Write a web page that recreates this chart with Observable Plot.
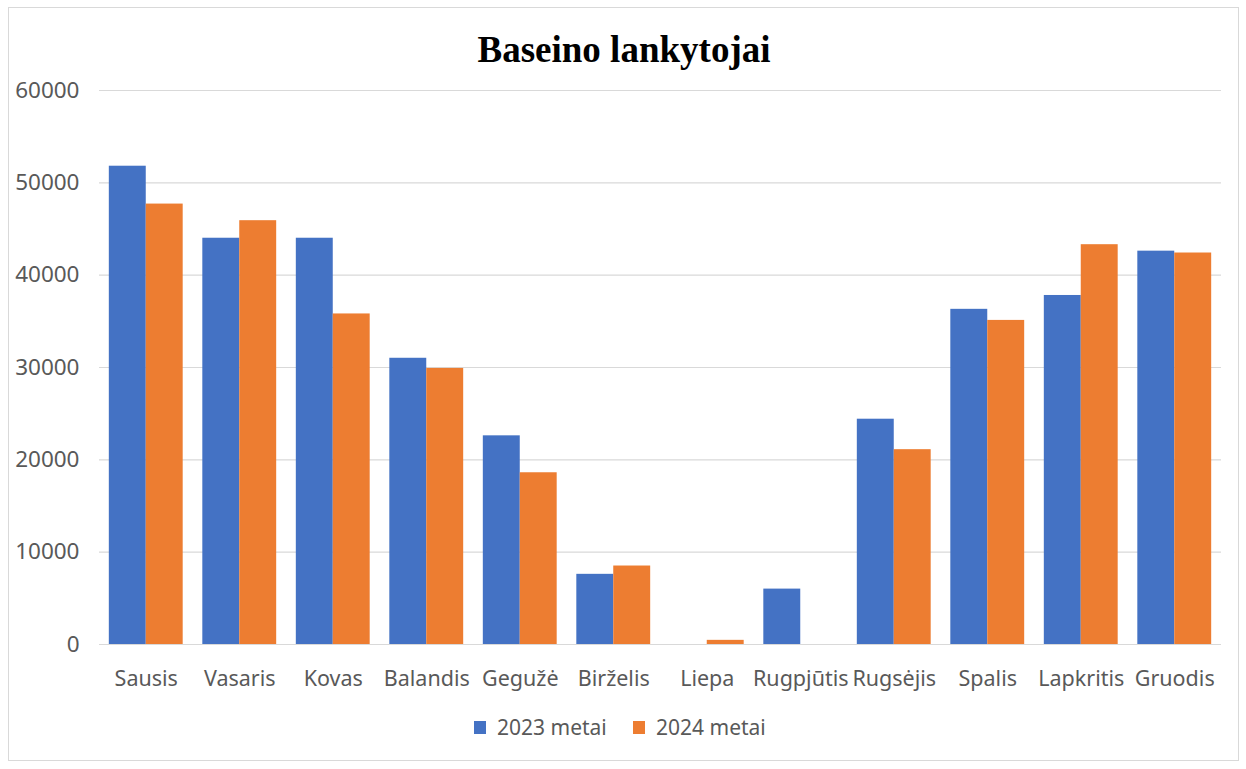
<!DOCTYPE html>
<html>
<head>
<meta charset="utf-8">
<script src="https://cdn.jsdelivr.net/npm/d3@7"></script>
<script src="https://cdn.jsdelivr.net/npm/@observablehq/plot@0.6"></script>
<style>
  html, body { margin: 0; padding: 0; background: #fff; }
  #wrap { position: relative; width: 1246px; height: 769px; overflow: hidden; }
  #frame { position: absolute; left: 8px; top: 7px; width: 1231px; height: 754px; border: 1.5px solid #d9d9d9; box-sizing: border-box; }
  #title { position: absolute; left: 8px; width: 1232px; top: 28px; text-align: center; font-family: "Liberation Serif", "Times New Roman", serif; font-weight: bold; font-size: 37px; line-height: 44px; color: #000; }
  #chart { position: absolute; left: 0; top: 0; }
  #legend { position: absolute; top: 714px; left: 0; width: 1246px; height: 26px; font-family: "Noto Sans", sans-serif; font-size: 21px; color: #595959; }
  .item { position: absolute; top: 0; display: flex; align-items: center; height: 26px; }
  .sw { width: 12px; height: 13px; margin-right: 11px; }
</style>
</head>
<body>
<div id="wrap">
  <div id="frame"></div>
  <div id="chart"></div>
  <div id="title">Baseino lankytojai</div>
  <div id="legend"></div>
</div>
<script>
const months = ["Sausis", "Vasaris", "Kovas", "Balandis", "Gegužė", "Birželis", "Liepa", "Rugpjūtis", "Rugsėjis", "Spalis", "Lapkritis", "Gruodis"];
const visitors2023 = [51800, 44000, 44000, 31000, 22600, 7600, 0, 6000, 24400, 36300, 37800, 42600];
const visitors2024 = [47700, 45900, 35800, 29900, 18600, 8500, 450, 0, 21100, 35100, 43300, 42400];
const seriesNames = ["2023 metai", "2024 metai"];
const seriesColors = ["#4472C4", "#ED7D31"];
const yTicks = [0, 10000, 20000, 30000, 40000, 50000, 60000];

const data = months.flatMap((m, i) => [
  {month: m, series: seriesNames[0], value: visitors2023[i]},
  {month: m, series: seriesNames[1], value: visitors2024[i]}
]);

const W = 1246, H = 700, mL = 99, mR = 25, mT = 90, mB = 56;
const pIn = 0.21, pOut = 0.105;
const step = (W - mL - mR) / (months.length - pIn + 2 * pOut);
const half = step * (1 - pIn) / 2;

const font = '"Noto Sans", sans-serif';
const chart = Plot.plot({
  width: W, height: H,
  marginLeft: mL, marginRight: mR, marginTop: mT, marginBottom: mB,
  style: {fontFamily: font, fontSize: "21px", color: "#595959", background: "transparent"},
  x: {domain: months, paddingInner: pIn, paddingOuter: pOut, round: false, label: null},
  y: {domain: [0, 60000], label: null},
  marks: [
    Plot.gridY(yTicks, {stroke: "#d9d9d9", strokeOpacity: 1, strokeWidth: 1.2}),
    Plot.barY(data.filter(d => d.series === seriesNames[0]), {x: "month", y: "value", fill: seriesColors[0], insetLeft: 0, insetRight: half}),
    Plot.barY(data.filter(d => d.series === seriesNames[1]), {x: "month", y: "value", fill: seriesColors[1], insetLeft: half, insetRight: 0}),
    Plot.axisY(yTicks, {tickSize: 0, tickPadding: 20, tickFormat: "d", fontSize: 22.5}),
    Plot.axisX({tickSize: 0, tickPadding: 26, fontSize: 21.5}),
    Plot.ruleY([0], {stroke: "#d9d9d9", strokeWidth: 1.2})
  ]
});
document.getElementById("chart").appendChild(chart);

const legend = document.getElementById("legend");
const lefts = [474, 633];
seriesNames.forEach((s, i) => {
  const it = document.createElement("div");
  it.className = "item";
  it.style.left = lefts[i] + "px";
  const sw = document.createElement("div");
  sw.className = "sw";
  sw.style.background = seriesColors[i];
  const t = document.createElement("span");
  t.textContent = s;
  it.appendChild(sw); it.appendChild(t);
  legend.appendChild(it);
});
</script>
</body>
</html>
